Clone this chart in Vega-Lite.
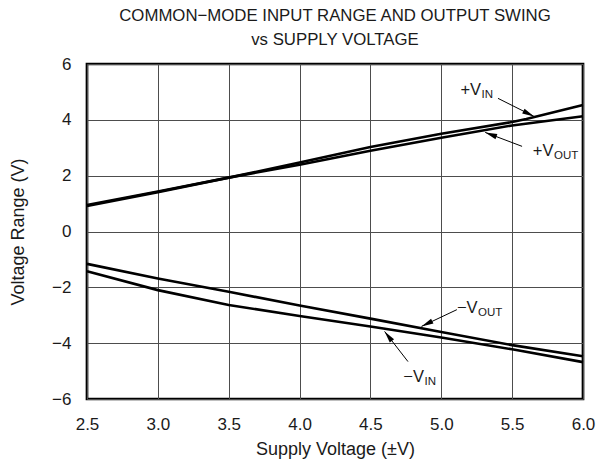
{
  "$schema": "https://vega.github.io/schema/vega-lite/v6.json",
  "width": 496,
  "height": 335,
  "autosize": {"type": "none"},
  "padding": {"left": 87, "top": 64, "right": 14, "bottom": 64},
  "background": "white",
  "title": {
    "text": ["COMMON−MODE INPUT RANGE AND OUTPUT SWING", "vs SUPPLY VOLTAGE"],
    "font": "Liberation Sans",
    "fontSize": 16.8,
    "fontWeight": "normal",
    "color": "#1a1a1a",
    "lineHeight": 24,
    "anchor": "middle",
    "offset": 6
  },
  "config": {
    "view": {"stroke": "black", "strokeWidth": 2.7},
    "axis": {
      "grid": true,
      "gridColor": "#4d4d4d",
      "gridWidth": 1,
      "domain": false,
      "ticks": false,
      "labelFlush": false,
      "labelFont": "Liberation Sans",
      "labelFontSize": 17,
      "labelColor": "#1a1a1a",
      "titleFont": "Liberation Sans",
      "titleFontSize": 18,
      "titleFontWeight": "normal",
      "titleColor": "#1a1a1a"
    }
  },
  "datasets": {
    "curves": [
      {"series": "+VIN", "v": 2.5, "r": 0.91},
      {"series": "+VIN", "v": 3.0, "r": 1.41},
      {"series": "+VIN", "v": 3.5, "r": 1.93},
      {"series": "+VIN", "v": 4.0, "r": 2.47},
      {"series": "+VIN", "v": 4.5, "r": 3.03},
      {"series": "+VIN", "v": 5.0, "r": 3.50},
      {"series": "+VIN", "v": 5.5, "r": 3.92},
      {"series": "+VIN", "v": 5.6, "r": 4.03},
      {"series": "+VIN", "v": 6.0, "r": 4.53},
      {"series": "+VOUT", "v": 2.5, "r": 0.95},
      {"series": "+VOUT", "v": 3.0, "r": 1.43},
      {"series": "+VOUT", "v": 3.5, "r": 1.93},
      {"series": "+VOUT", "v": 4.0, "r": 2.39},
      {"series": "+VOUT", "v": 4.5, "r": 2.89},
      {"series": "+VOUT", "v": 5.0, "r": 3.36},
      {"series": "+VOUT", "v": 5.5, "r": 3.80},
      {"series": "+VOUT", "v": 6.0, "r": 4.13},
      {"series": "-VOUT", "v": 2.5, "r": -1.16},
      {"series": "-VOUT", "v": 3.0, "r": -1.68},
      {"series": "-VOUT", "v": 3.5, "r": -2.16},
      {"series": "-VOUT", "v": 4.0, "r": -2.65},
      {"series": "-VOUT", "v": 4.5, "r": -3.12},
      {"series": "-VOUT", "v": 5.0, "r": -3.60},
      {"series": "-VOUT", "v": 5.5, "r": -4.07},
      {"series": "-VOUT", "v": 6.0, "r": -4.47},
      {"series": "-VIN", "v": 2.5, "r": -1.42},
      {"series": "-VIN", "v": 3.0, "r": -2.10},
      {"series": "-VIN", "v": 3.5, "r": -2.63},
      {"series": "-VIN", "v": 4.0, "r": -3.03},
      {"series": "-VIN", "v": 4.5, "r": -3.40},
      {"series": "-VIN", "v": 5.0, "r": -3.80},
      {"series": "-VIN", "v": 5.5, "r": -4.22},
      {"series": "-VIN", "v": 6.0, "r": -4.68}
    ],
    "labels": [
      {"id": "+VIN", "v": 5.281, "r": 4.875, "main": "+V", "sub": "IN"},
      {"id": "+VOUT", "v": 5.792, "r": 2.688, "main": "+V", "sub": "OUT"},
      {"id": "-VOUT", "v": 5.256, "r": -2.903, "main": "−V", "sub": "OUT"},
      {"id": "-VIN", "v": 4.878, "r": -5.376, "main": "−V", "sub": "IN"}
    ],
    "arrows": [
      {"id": "+VIN", "v": 5.40, "r": 4.77, "v2": 5.655, "r2": 4.12},
      {"id": "+VOUT", "v": 5.57, "r": 3.05, "v2": 5.31, "r2": 3.55},
      {"id": "-VOUT", "v": 5.11, "r": -2.80, "v2": 4.86, "r2": -3.40},
      {"id": "-VIN", "v": 4.765, "r": -4.66, "v2": 4.60, "r2": -3.58}
    ]
  },
  "encoding": {
    "x": {
      "field": "v",
      "type": "quantitative",
      "scale": {"domain": [2.5, 6], "nice": false, "zero": false},
      "axis": {
        "values": [2.5, 3, 3.5, 4, 4.5, 5, 5.5, 6],
        "format": ".1f",
        "labelPadding": 17,
        "title": "Supply Voltage (±V)",
        "titlePadding": 8
      }
    },
    "y": {
      "field": "r",
      "type": "quantitative",
      "scale": {"domain": [-6, 6], "nice": false, "zero": false},
      "axis": {
        "values": [-6, -4, -2, 0, 2, 4, 6],
        "format": "d",
        "labelPadding": 16,
        "title": "Voltage Range (V)",
        "titlePadding": 24
      }
    }
  },
  "layer": [
    {
      "data": {"name": "curves"},
      "mark": {"type": "line", "color": "black", "strokeWidth": 2.6},
      "encoding": {"detail": {"field": "series"}}
    },
    {
      "data": {"name": "arrows"},
      "mark": {"type": "rule", "color": "black", "strokeWidth": 1},
      "encoding": {
        "x2": {"field": "v2"},
        "y2": {"field": "r2"}
      }
    },
    {
      "data": {"name": "arrows"},
      "transform": [{"filter": "datum.id === '+VIN'"}],
      "mark": {"type": "point", "shape": "M0,0L-0.45,2L0.45,2Z", "size": 144, "filled": true, "color": "black", "opacity": 1, "angle": 116.6},
      "encoding": {"x": {"field": "v2", "type": "quantitative"}, "y": {"field": "r2", "type": "quantitative"}}
    },
    {
      "data": {"name": "arrows"},
      "transform": [{"filter": "datum.id === '+VOUT'"}],
      "mark": {"type": "point", "shape": "M0,0L-0.45,2L0.45,2Z", "size": 144, "filled": true, "color": "black", "opacity": 1, "angle": 290.7},
      "encoding": {"x": {"field": "v2", "type": "quantitative"}, "y": {"field": "r2", "type": "quantitative"}}
    },
    {
      "data": {"name": "arrows"},
      "transform": [{"filter": "datum.id === '-VOUT'"}],
      "mark": {"type": "point", "shape": "M0,0L-0.45,2L0.45,2Z", "size": 144, "filled": true, "color": "black", "opacity": 1, "angle": 244.1},
      "encoding": {"x": {"field": "v2", "type": "quantitative"}, "y": {"field": "r2", "type": "quantitative"}}
    },
    {
      "data": {"name": "arrows"},
      "transform": [{"filter": "datum.id === '-VIN'"}],
      "mark": {"type": "point", "shape": "M0,0L-0.45,2L0.45,2Z", "size": 144, "filled": true, "color": "black", "opacity": 1, "angle": 322.5},
      "encoding": {"x": {"field": "v2", "type": "quantitative"}, "y": {"field": "r2", "type": "quantitative"}}
    },
    {
      "data": {"name": "labels"},
      "mark": {"type": "text", "align": "right", "baseline": "alphabetic", "font": "Liberation Sans", "fontSize": 16.5, "color": "#1a1a1a"},
      "encoding": {"text": {"field": "main"}}
    },
    {
      "data": {"name": "labels"},
      "mark": {"type": "text", "align": "left", "baseline": "alphabetic", "dx": 0.5, "dy": 3, "font": "Liberation Sans", "fontSize": 11.5, "color": "#1a1a1a"},
      "encoding": {"text": {"field": "sub"}}
    }
  ]
}
